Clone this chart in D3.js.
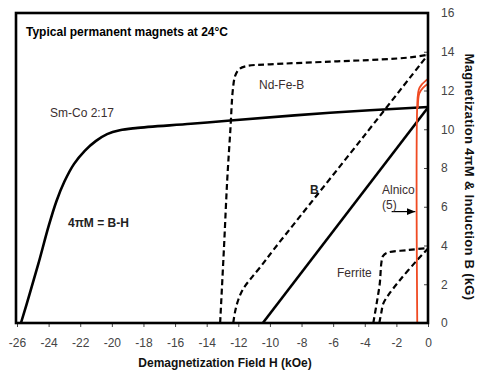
<!DOCTYPE html>
<html>
<head>
<meta charset="utf-8">
<script src="https://cdn.jsdelivr.net/npm/d3@7"></script>
<style>
  body { margin: 0; background: #fff; }
  svg { display: block; font-family: "Liberation Sans", Arial, sans-serif; }
</style>
</head>
<body>
<div id="chart"></div>
<script>
// [H (kOe), 4piM or B (kG)]
const smCoM = [[-25.75, 0], [-25.2, 1.5], [-24.6, 3.2], [-24.0, 5.0], [-23.5, 6.3], [-23.0, 7.3],
  [-22.4, 8.2], [-21.7, 8.9], [-21.0, 9.4], [-20.3, 9.75], [-19.5, 9.95], [-18.5, 10.06],
  [-15, 10.28], [-12.5, 10.45], [-6.2, 10.85], [0, 11.15]];
const smCoB = [[-10.45, 0], [0, 11.12]];
const ndFeBM = [[-13.15, 0], [-12.9, 4], [-12.7, 7.4], [-12.5, 10.0], [-12.35, 12.0], [-12.2, 12.75],
  [-11.95, 13.1], [-11.5, 13.26], [-10, 13.35], [-6.2, 13.49], [-3, 13.6], [-1, 13.72], [0, 13.85]];
const ndFeBB = [[-12.32, 0], [-12.2, 0.6], [-12.0, 1.2], [-11.7, 1.75], [-11.2, 2.3], [-10.5, 3.0],
  [-9.8, 3.75], [-8, 5.6], [-4, 9.7], [0, 13.85]];
const ferriteM = [[-3.46, 0], [-3.25, 1.0], [-3.05, 2.05], [-2.95, 3.1], [-2.85, 3.45], [-2.6, 3.62],
  [-1.2, 3.77], [0, 3.87]];
const ferriteB = [[-3.08, 0], [-2.95, 0.55], [-2.83, 1.0], [-2.5, 1.45], [-1.77, 2.22], [-0.68, 3.25], [0, 3.85]];
const alnicoM = [[-0.68, 0], [-0.66, 11.6], [-0.58, 12.05], [-0.4, 12.3], [0, 12.6]];
const alnicoB = [[-0.64, 11.1], [-0.55, 11.85], [-0.3, 12.15], [0, 12.35]];

const xTicks = d3.range(-26, 1, 2);
const yTicks = d3.range(0, 17, 2);

const svg = d3.select("#chart").append("svg")
  .attr("width", 477)
  .attr("height", 372);

const x = d3.scaleLinear().domain([-26, 0]).range([17, 428]);
const y = d3.scaleLinear().domain([0, 16]).range([323, 13]);

const lineX = d3.line()
  .x(d => x(d[0]))
  .y(d => y(d[1]))
  .curve(d3.curveCatmullRom.alpha(0.5));

// axes
const xAxis = svg.append("g")
  .attr("transform", `translate(0,${y(0)})`)
  .call(d3.axisBottom(x).tickValues(xTicks).tickSize(4).tickPadding(11)
    .tickFormat(d => d));
xAxis.select(".domain").remove();
xAxis.selectAll("line").attr("stroke", "#444");
xAxis.selectAll("text").attr("fill", "#444").style("font-size", "12px");

const yAxis = svg.append("g")
  .attr("transform", `translate(${x(0)},0)`)
  .call(d3.axisRight(y).tickValues(yTicks).tickSize(-4).tickPadding(13));
yAxis.select(".domain").remove();
yAxis.selectAll("line").attr("stroke", "#444");
yAxis.selectAll("text").attr("fill", "#444").style("font-size", "12px");

// curves
const curves = [
  { data: smCoM, dash: null, color: "#000" },
  { data: smCoB, dash: null, color: "#000" },
  { data: ndFeBM, dash: "6,3.5", color: "#000" },
  { data: ndFeBB, dash: "6,3.5", color: "#000" },
  { data: ferriteM, dash: "6,3.5", color: "#000" },
  { data: ferriteB, dash: "6,3.5", color: "#000" },
  { data: alnicoM, dash: null, color: "#f04a22" },
  { data: alnicoB, dash: null, color: "#f04a22" }
];

svg.append("g").selectAll("path")
  .data(curves)
  .enter()
  .append("path")
  .attr("d", d => lineX(d.data))
  .attr("fill", "none")
  .attr("stroke", d => d.color)
  .attr("stroke-width", d => d.color === "#000" ? (d.dash ? 2.2 : 2.6) : 1.8)
  .attr("stroke-dasharray", d => d.dash);

// frame
svg.append("rect")
  .attr("x", x(-26) - 1)
  .attr("y", y(16))
  .attr("width", x(0) - x(-26) + 1)
  .attr("height", y(0) - y(16))
  .attr("fill", "none")
  .attr("stroke", "#000")
  .attr("stroke-width", 2.6);

// arrow for Alnico
svg.append("defs").append("marker")
  .attr("id", "head")
  .attr("viewBox", "0 0 10 10")
  .attr("refX", 10).attr("refY", 5)
  .attr("markerWidth", 7).attr("markerHeight", 7)
  .attr("orient", "auto")
  .append("path")
  .attr("d", "M0,1L10,5L0,9Z")
  .attr("fill", "#000");

svg.append("line")
  .attr("x1", x(-2.3)).attr("y1", y(5.75))
  .attr("x2", x(-0.8)).attr("y2", y(5.75))
  .attr("stroke", "#000")
  .attr("stroke-width", 1.2)
  .attr("marker-end", "url(#head)");

// labels
const labels = [
  { t: "Typical permanent magnets at 24°C", x: 26, y: 36, bold: true, c: "#000", s: 12 },
  { t: "Sm-Co 2:17", x: 50, y: 117, bold: false, c: "#3a2e2e", s: 12 },
  { t: "Nd-Fe-B", x: 259, y: 89, bold: false, c: "#3a2e2e", s: 12 },
  { t: "4πM = B-H", x: 68, y: 227, bold: true, c: "#222", s: 12 },
  { t: "B", x: 310, y: 194, bold: true, c: "#222", s: 12 },
  { t: "Alnico", x: 382, y: 194, bold: false, c: "#3a2e2e", s: 12 },
  { t: "(5)", x: 382, y: 209, bold: false, c: "#3a2e2e", s: 12 },
  { t: "Ferrite", x: 337, y: 277, bold: false, c: "#3a2e2e", s: 12 }
];

svg.append("g").selectAll("text")
  .data(labels)
  .enter()
  .append("text")
  .attr("x", d => d.x)
  .attr("y", d => d.y)
  .attr("fill", d => d.c)
  .style("font-size", d => d.s + "px")
  .style("font-weight", d => d.bold ? "bold" : "normal")
  .text(d => d.t);

// axis titles
svg.append("text")
  .attr("x", 225)
  .attr("y", 367)
  .attr("text-anchor", "middle")
  .style("font-size", "12px")
  .style("font-weight", "bold")
  .attr("fill", "#111")
  .text("Demagnetization Field H (kOe)");

svg.append("text")
  .attr("transform", "translate(465,177) rotate(90)")
  .attr("text-anchor", "middle")
  .style("font-size", "13px")
  .style("font-weight", "bold")
  .style("letter-spacing", "0.3px")
  .attr("fill", "#111")
  .text("Magnetization  4πM & Induction  B (kG)");
</script>
</body>
</html>
